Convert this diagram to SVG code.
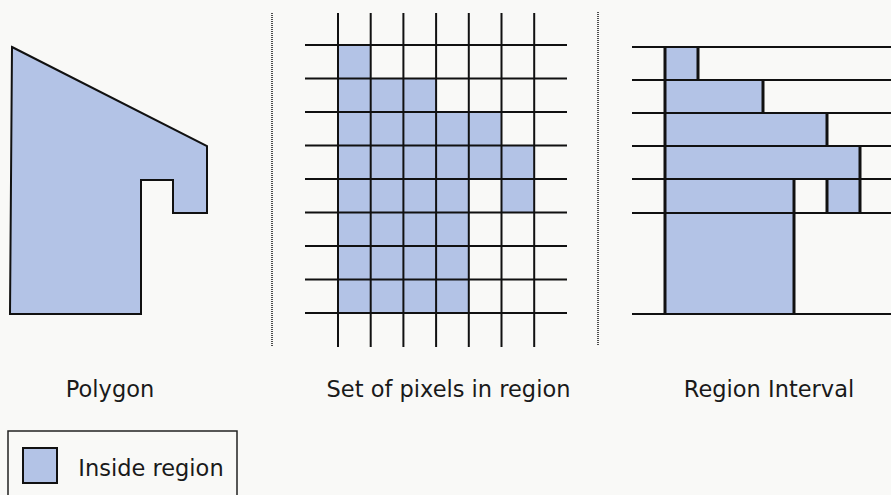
<svg xmlns="http://www.w3.org/2000/svg" width="891" height="495" viewBox="0 0 891 495">
<style>
.bg{fill:#f9f9f7}
.fill{fill:#b3c3e6}
.ln{stroke:#111;stroke-width:2;fill:none}
.thick{stroke:#111;stroke-width:3;fill:none}
.dot{stroke:#222;stroke-width:1.6;stroke-dasharray:1 1;fill:none}
.lbl{font-family:"DejaVu Sans",sans-serif;font-size:22.5px;fill:#1a1a1a;text-anchor:middle}
</style>
<rect class="bg" x="0" y="0" width="891" height="495"/>

<g id="polygon">
<polygon class="fill" points="12,47 207,146 207,213 173,213 173,180 141,180 141,314 10,314" stroke="#111" stroke-width="2"/>
<text class="lbl" x="110" y="397">Polygon</text>
</g>

<g id="separators">
<line class="dot" x1="272" y1="13" x2="272" y2="347"/>
<line class="dot" x1="598" y1="12" x2="598" y2="346"/>
</g>

<g id="pixels">
<rect class="fill" x="338" y="45" width="32.7" height="33.5"/>
<rect class="fill" x="338" y="78.5" width="98.1" height="33.5"/>
<rect class="fill" x="338" y="112" width="163.5" height="33.5"/>
<rect class="fill" x="338" y="145.5" width="196.2" height="33.5"/>
<rect class="fill" x="338" y="179" width="130.8" height="33.5"/>
<rect class="fill" x="501.5" y="179" width="32.7" height="33.5"/>
<rect class="fill" x="338" y="212.5" width="130.8" height="100.5"/>
<g class="ln">
<line x1="338" y1="13" x2="338" y2="347"/>
<line x1="370.7" y1="13" x2="370.7" y2="347"/>
<line x1="403.4" y1="13" x2="403.4" y2="347"/>
<line x1="436.1" y1="13" x2="436.1" y2="347"/>
<line x1="468.8" y1="13" x2="468.8" y2="347"/>
<line x1="501.5" y1="13" x2="501.5" y2="347"/>
<line x1="534.2" y1="13" x2="534.2" y2="347"/>
<line x1="305" y1="45" x2="567" y2="45"/>
<line x1="305" y1="78.5" x2="567" y2="78.5"/>
<line x1="305" y1="112" x2="567" y2="112"/>
<line x1="305" y1="145.5" x2="567" y2="145.5"/>
<line x1="305" y1="179" x2="567" y2="179"/>
<line x1="305" y1="212.5" x2="567" y2="212.5"/>
<line x1="305" y1="246" x2="567" y2="246"/>
<line x1="305" y1="279.5" x2="567" y2="279.5"/>
<line x1="305" y1="313" x2="567" y2="313"/>
</g>
<text class="lbl" x="448.5" y="397">Set of pixels in region</text>
</g>

<g id="intervals">
<rect class="fill" x="665" y="47" width="33" height="33"/>
<rect class="fill" x="665" y="80" width="98" height="33"/>
<rect class="fill" x="665" y="113" width="162" height="33"/>
<rect class="fill" x="665" y="146" width="195" height="33"/>
<rect class="fill" x="665" y="179" width="129" height="135"/>
<rect class="fill" x="827" y="179" width="33" height="34"/>
<g class="ln">
<line x1="632" y1="47" x2="891" y2="47"/>
<line x1="632" y1="80" x2="891" y2="80"/>
<line x1="632" y1="113" x2="891" y2="113"/>
<line x1="632" y1="146" x2="891" y2="146"/>
<line x1="632" y1="179" x2="891" y2="179"/>
<line x1="632" y1="213" x2="891" y2="213"/>
<line x1="632" y1="314" x2="891" y2="314"/>
</g>
<g class="thick">
<line x1="665" y1="46" x2="665" y2="315"/>
<line x1="698" y1="47" x2="698" y2="80"/>
<line x1="763" y1="80" x2="763" y2="113"/>
<line x1="827" y1="113" x2="827" y2="146"/>
<line x1="860" y1="146" x2="860" y2="179"/>
<line x1="794" y1="179" x2="794" y2="315"/>
<line x1="827" y1="179" x2="827" y2="213"/>
<line x1="860" y1="179" x2="860" y2="213"/>
</g>
<text class="lbl" x="769" y="397">Region Interval</text>
</g>

<g id="legend">
<path d="M8,496 V431 H237 V496" stroke="#222" stroke-width="1.5" fill="none"/>
<rect class="fill" x="23" y="448" width="34" height="35" stroke="#111" stroke-width="2"/>
<text class="lbl" x="151" y="476">Inside region</text>
</g>
</svg>
